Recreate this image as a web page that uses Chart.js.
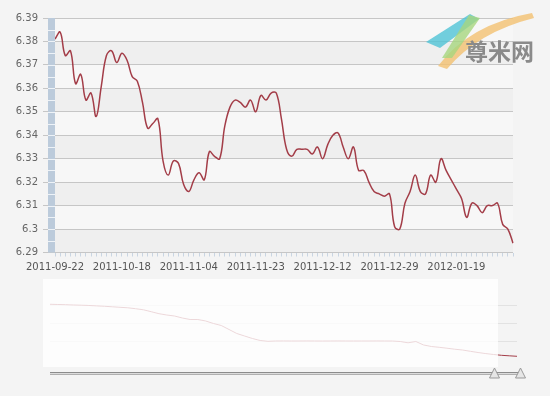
<!DOCTYPE html>
<html>
<head>
<meta charset="utf-8">
<script src="https://cdn.jsdelivr.net/npm/chart.js@4"></script>
<style>
html, body { margin: 0; padding: 0; background: #f4f4f4; }
#wrap { position: relative; width: 550px; height: 396px; overflow: hidden; }
#chart { position: absolute; left: 0; top: 0; }
#nav { position: absolute; left: 0; top: 275px; }
</style>
</head>
<body>
<div id="wrap">
  <canvas id="chart" width="550" height="280"></canvas>
  <canvas id="nav" width="550" height="121"></canvas>
</div>
<script>
// trading days shown in the main chart
const dates = [
  '2011-09-22','2011-09-23','2011-09-26','2011-09-27','2011-09-28','2011-09-29','2011-09-30','2011-10-10','2011-10-11','2011-10-12','2011-10-13','2011-10-14','2011-10-17',
  '2011-10-18','2011-10-19','2011-10-20','2011-10-21','2011-10-24','2011-10-25','2011-10-26','2011-10-27','2011-10-28','2011-10-31','2011-11-01','2011-11-02','2011-11-03',
  '2011-11-04','2011-11-07','2011-11-08','2011-11-09','2011-11-10','2011-11-11','2011-11-14','2011-11-15','2011-11-16','2011-11-17','2011-11-18','2011-11-21','2011-11-22',
  '2011-11-23','2011-11-24','2011-11-25','2011-11-28','2011-11-29','2011-11-30','2011-12-01','2011-12-02','2011-12-05','2011-12-06','2011-12-07','2011-12-08','2011-12-09',
  '2011-12-12','2011-12-13','2011-12-14','2011-12-15','2011-12-16','2011-12-19','2011-12-20','2011-12-21','2011-12-22','2011-12-23','2011-12-26','2011-12-27','2011-12-28',
  '2011-12-29','2011-12-30','2012-01-04','2012-01-05','2012-01-06','2012-01-09','2012-01-10','2012-01-11','2012-01-12','2012-01-13','2012-01-16','2012-01-17','2012-01-18',
  '2012-01-19','2012-01-20','2012-01-30','2012-01-31','2012-02-01','2012-02-02','2012-02-03','2012-02-06','2012-02-07','2012-02-08','2012-02-09','2012-02-10'
];

// daily rate
const rates = [
  6.381, 6.384, 6.374, 6.376, 6.362, 6.366, 6.355, 6.358, 6.348, 6.361,
  6.374, 6.376, 6.371, 6.375, 6.372, 6.365, 6.363, 6.354, 6.343, 6.345,
  6.347, 6.329, 6.323, 6.329, 6.328, 6.319, 6.316, 6.321, 6.324, 6.321,
  6.333, 6.331, 6.330, 6.344, 6.352, 6.355, 6.354, 6.352, 6.355, 6.350,
  6.357, 6.355, 6.358, 6.358, 6.347, 6.334, 6.331, 6.334, 6.334, 6.334,
  6.332, 6.335, 6.330, 6.336, 6.340, 6.341, 6.335, 6.330, 6.335, 6.325,
  6.325, 6.320, 6.316, 6.315, 6.314, 6.315, 6.301, 6.300, 6.311, 6.316,
  6.323, 6.316, 6.315, 6.323, 6.320, 6.330, 6.325, 6.321, 6.317, 6.313,
  6.305, 6.311, 6.310, 6.307, 6.310, 6.310, 6.311, 6.302, 6.300, 6.294
];

const labelEvery = 13;
const yMin = 6.29, yMax = 6.39, yStep = 0.01;

// long history shown in the navigator
const navRates = [
  8.118, 8.111, 8.104, 8.093, 8.086, 8.076, 8.062, 8.048, 8.030, 8.012,
  7.995, 7.963, 7.925, 7.858, 7.788, 7.742, 7.707, 7.637, 7.584, 7.584,
  7.532, 7.444, 7.374, 7.234, 7.093, 7.005, 6.918, 6.848, 6.819, 6.830,
  6.831, 6.829, 6.830, 6.831, 6.830, 6.828, 6.830, 6.831, 6.830, 6.829,
  6.830, 6.830, 6.831, 6.830, 6.829,
  6.812, 6.767, 6.812, 6.690, 6.637, 6.609, 6.577, 6.542, 6.514, 6.469,
  6.426, 6.388, 6.356, 6.328, 6.311, 6.294
];
const navLabels = navRates.map((_, i) => i);
const navGrid = [6.83, 7.444, 8.058];

Chart.defaults.font.family = 'DejaVu Sans';
Chart.defaults.font.size = 10;

// alternating bands + blue bar + logo
const mainDecor = {
  id: 'mainDecor',
  beforeDraw(chart) {
    const { ctx, chartArea: a, scales: { y } } = chart;
    ctx.save();
    let k = 0;
    for (let v = yMax; v > yMin + 1e-9; v -= yStep, k++) {
      const t = y.getPixelForValue(v), b = y.getPixelForValue(v - yStep);
      ctx.fillStyle = k % 2 === 0 ? '#f7f7f7' : '#efefef';
      ctx.fillRect(a.left, t, a.right - a.left, b - t);
    }
    ctx.restore();
  },
  afterDraw(chart) {
    const { ctx, chartArea: a } = chart;
    ctx.save();
    ctx.fillStyle = '#bccbdb';
    ctx.fillRect(48, a.top, 7, a.bottom - a.top);
    ctx.strokeStyle = '#eef3f8';
    ctx.lineWidth = 1;
    const n = 20;
    for (let i = 1; i < n; i++) {
      const yy = Math.round(a.top + i * (a.bottom - a.top) / n) + 0.5;
      ctx.beginPath(); ctx.moveTo(48, yy); ctx.lineTo(55, yy); ctx.stroke();
    }
    // watermark
    ctx.globalAlpha = 0.8;
    ctx.fillStyle = '#f3c170';
    ctx.beginPath();
    ctx.moveTo(438, 66); ctx.quadraticCurveTo(470, 24, 532, 13);
    ctx.lineTo(534, 18); ctx.quadraticCurveTo(478, 32, 447, 69);
    ctx.closePath(); ctx.fill();
    ctx.fillStyle = '#4fc3d6';
    ctx.beginPath();
    ctx.moveTo(426, 42); ctx.lineTo(470, 14); ctx.lineTo(479, 19); ctx.lineTo(440, 48);
    ctx.closePath(); ctx.fill();
    ctx.fillStyle = '#a6d67e';
    ctx.beginPath();
    ctx.moveTo(469, 15); ctx.lineTo(480, 18); ctx.lineTo(452, 58); ctx.lineTo(442, 58);
    ctx.closePath(); ctx.fill();
    ctx.globalAlpha = 1;
    ctx.fillStyle = '#8a8a8a';
    ctx.font = 'bold 23px "Noto Sans CJK SC"';
    ctx.textBaseline = 'alphabetic';
    ctx.fillText('尊米网', 465, 60);
    ctx.restore();
  }
};

new Chart(document.getElementById('chart'), {
  type: 'line',
  data: {
    labels: dates,
    datasets: [{
      data: rates,
      borderColor: '#a33d48',
      borderWidth: 1.5,
      pointRadius: 0,
      tension: 0.4
    }]
  },
  options: {
    responsive: false,
    animation: false,
    events: [],
    layout: { padding: { left: 0, right: 37, top: 18, bottom: 0 } },
    plugins: { legend: { display: false }, tooltip: { enabled: false } },
    scales: {
      x: {
        offset: false,
        border: { display: false },
        grid: { drawOnChartArea: false, drawTicks: true, tickLength: 4, tickColor: '#c9d5e2' },
        ticks: {
          autoSkip: false, maxRotation: 0, minRotation: 0, padding: 5, color: '#555',
          callback: (v, i) => (i % labelEvery === 0 ? dates[i] : '')
        },
        afterFit: s => { s.height = 27.5; }
      },
      y: {
        min: yMin, max: yMax,
        border: { display: false },
        grid: { color: '#c6c6c6', tickLength: 12 },
        ticks: { stepSize: yStep, padding: 5, color: '#666', callback: v => String(+v.toFixed(2)) },
        afterFit: s => { s.width = 55; }
      }
    }
  },
  plugins: [mainDecor]
});

// navigator mask, scrollbar and handles
const navDecor = {
  id: 'navDecor',
  afterDraw(chart) {
    const { ctx, chartArea: a } = chart;
    ctx.save();
    ctx.fillStyle = 'rgba(255,255,255,0.8)';
    ctx.fillRect(43, a.top, 455, a.bottom - a.top);
    ctx.fillStyle = '#dcdcdc';
    ctx.fillRect(50, 97, 470, 2.5);
    ctx.strokeStyle = '#8c8c8c';
    ctx.lineWidth = 1;
    ctx.beginPath(); ctx.moveTo(50, 97.5); ctx.lineTo(520, 97.5); ctx.stroke();
    ctx.strokeStyle = '#b0b0b0';
    ctx.beginPath(); ctx.moveTo(50, 99.5); ctx.lineTo(520, 99.5); ctx.stroke();
    [494.5, 520.5].forEach(cx => {
      ctx.beginPath();
      ctx.moveTo(cx, 93); ctx.lineTo(cx + 5, 103); ctx.lineTo(cx - 5, 103); ctx.closePath();
      ctx.fillStyle = '#e6e6e6'; ctx.fill();
      ctx.strokeStyle = '#999'; ctx.stroke();
    });
    ctx.restore();
  }
};

new Chart(document.getElementById('nav'), {
  type: 'line',
  data: {
    labels: navLabels,
    datasets: [{ data: navRates, borderColor: '#a33d48', borderWidth: 1, pointRadius: 0, tension: 0 }]
  },
  options: {
    responsive: false,
    animation: false,
    events: [],
    layout: { padding: { left: 50, right: 33, top: 4, bottom: 29 } },
    plugins: { legend: { display: false }, tooltip: { enabled: false } },
    scales: {
      x: { display: false, offset: false },
      y: {
        min: 5.918, max: 9.005,
        border: { display: false },
        ticks: { display: false },
        grid: { color: '#e2e2e2', drawTicks: false },
        afterBuildTicks: s => { s.ticks = navGrid.map(v => ({ value: v })); },
        afterFit: s => { s.width = 0; }
      }
    }
  },
  plugins: [navDecor]
});
</script>
</body>
</html>
